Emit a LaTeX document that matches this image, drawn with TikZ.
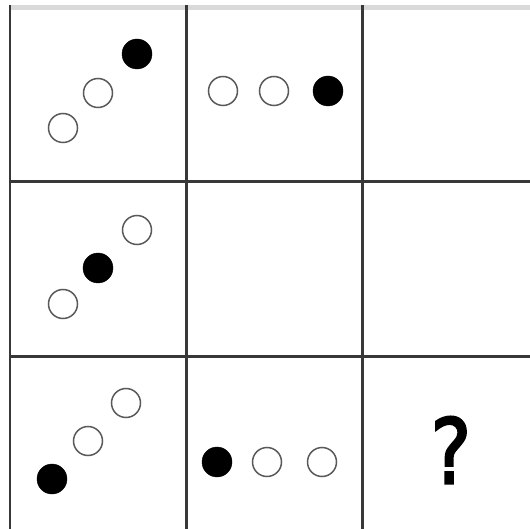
\documentclass[tikz,border=0pt]{standalone}
\usepackage{fontspec}
\newfontfamily\qfont[FakeBold=2.5]{DejaVu Sans}
\usepackage{tikz}
\usetikzlibrary{calc}

\begin{document}
\begin{tikzpicture}[x=1pt,y=-1pt,
    grid/.style={draw=black!78,line width=2.2pt},
    odot/.style={draw=black!65,circle,line width=1.5pt,minimum size=29pt,inner sep=0pt,fill=white},
    bdot/.style={draw=black,circle,fill=black,minimum size=30pt,inner sep=0pt}]
    \useasboundingbox (0,0) rectangle (530,529);
    \fill[black!15] (10,5) rectangle (530,10);
    % grid lines
    \draw[grid] (10,5) -- (10,529);
    \draw[grid] (186.5,5) -- (186.5,529);
    \draw[grid] (362.5,5) -- (362.5,529);
    \draw[grid] (10,181.5) -- (530,181.5);
    \draw[grid] (10,356.5) -- (530,356.5);
    % row 1
    \node[odot] (a1) at (63,128) {};
    \node[odot] (a2) at (98,93) {};
    \node[bdot] (a3) at (137,54) {};
    \node[odot] (b1) at (223,91) {};
    \node[odot] (b2) at (274,91) {};
    \node[bdot] (b3) at (328,91) {};
    % row 2
    \node[odot] (c1) at (63,304) {};
    \node[bdot] (c2) at (98,268) {};
    \node[odot] (c3) at (137,230) {};
    % row 3
    \node[bdot] (d1) at (52,479) {};
    \node[odot] (d2) at (88,441) {};
    \node[odot] (d3) at (126,403) {};
    \node[bdot] (e1) at (217,462) {};
    \node[odot] (e2) at (267,462) {};
    \node[odot] (e3) at (322,462) {};
    \node[font=\qfont\fontsize{90}{90}\selectfont,xscale=0.85,inner sep=0pt] (q) at (451,450) {?};
\end{tikzpicture}
\end{document}
